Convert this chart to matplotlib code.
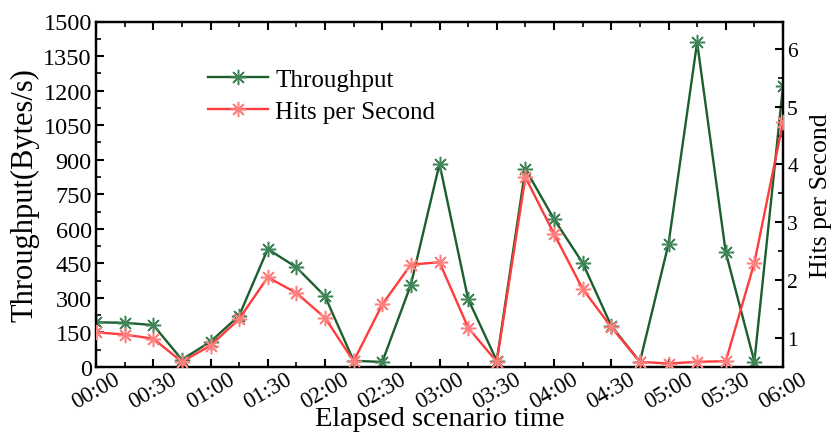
import matplotlib
matplotlib.use("Agg")
import matplotlib.pyplot as plt
import matplotlib.transforms as mtransforms
from matplotlib.ticker import MultipleLocator
import numpy as np

plt.rcParams['font.family'] = ['Liberation Serif', 'DejaVu Serif']

# time in minutes (every 15 min)
minutes = list(range(0, 361, 15))
tick_minutes = list(range(0, 361, 30))
tick_labels = ["00:00", "00:30", "01:00", "01:30", "02:00", "02:30", "03:00",
               "03:30", "04:00", "04:30", "05:00", "05:30", "06:00"]

throughput = [194, 192, 182, 32, 110, 223, 512, 433, 307, 27, 22, 357, 882,
              295, 27, 860, 642, 452, 179, 22, 534, 1410, 498, 23, 1219]
hits = [1.10, 1.06, 0.99, 0.59, 0.87, 1.33, 2.05, 1.78, 1.35, 0.60, 1.58, 2.27,
        2.31, 1.18, 0.59, 3.78, 2.80, 1.85, 1.19, 0.59, 0.56, 0.59, 0.60, 2.30, 4.73]

green_line = '#1d5e2e'
green_mk = '#3f8557'
red_line = '#ff3c3c'
red_mk = '#ff7f7f'

fig = plt.figure(figsize=(8.32, 4.35), dpi=100)
ax = fig.add_axes([96/832, 1 - 368/435, (783-96)/832, (368-22.5)/435])
ax2 = ax.twinx()

star = (8, 2, 0)
l1, = ax.plot(minutes, throughput, color=green_line, lw=1.7, marker=star,
              markersize=11, markeredgecolor=green_mk, markeredgewidth=1.1,
              label='Throughput', zorder=3)
l2, = ax2.plot(minutes, hits, color=red_line, lw=1.7, marker=star,
               markersize=11, markeredgecolor=red_mk, markeredgewidth=1.1,
               label='Hits per Second', zorder=3)

ax.set_xlim(0, 360)
ax.set_ylim(0, 1500)
ax2.set_ylim(0.5, 6.47)

ax.set_xticks(tick_minutes)
ax.set_xticklabels(tick_labels, rotation=30, fontsize=16.5)
ax.xaxis.set_minor_locator(MultipleLocator(15))
ax.yaxis.set_major_locator(MultipleLocator(150))
ax.yaxis.set_minor_locator(MultipleLocator(75))
ax2.yaxis.set_major_locator(MultipleLocator(1))
ax2.yaxis.set_minor_locator(MultipleLocator(0.5))

offset = mtransforms.ScaledTranslation(-10/100, 0, fig.dpi_scale_trans)
for lab in ax.get_xticklabels():
    lab.set_transform(lab.get_transform() + offset)

ax.tick_params(axis='both', which='major', direction='in', length=6, width=1.5,
               top=True, right=False)
ax.tick_params(axis='both', which='minor', direction='in', length=3.5, width=1.2,
               top=True, right=False)
ax.tick_params(axis='x', which='major', pad=1, labelsize=16.5)
ax.tick_params(axis='y', which='major', pad=3, labelsize=17.5)
ax2.tick_params(axis='y', which='major', direction='in', length=6, width=1.5,
                labelsize=15.5, pad=3)
ax2.tick_params(axis='y', which='minor', direction='in', length=3.5, width=1.2)

for a in (ax, ax2):
    for s in a.spines.values():
        s.set_linewidth(1.6)

ax.set_ylabel('Throughput(Bytes/s)', fontsize=22)
ax.yaxis.set_label_coords(-(96 - 24.5) / 687, 0.5)
ax.yaxis.label.set_va('center')
ax2.set_ylabel('Hits per Second', fontsize=18.5)
ax2.yaxis.set_label_coords(1 + (821 - 783) / 687, 0.5)
ax2.yaxis.label.set_va('center')
ax.set_xlabel('Elapsed scenario time', fontsize=20.5)
ax.xaxis.set_label_coords(0.5, -(420 - 368) / 345.5)
ax.xaxis.label.set_va('center')

leg = ax.legend(handles=[l1, l2], loc='upper left', bbox_to_anchor=(0.13, 0.93),
                frameon=False, fontsize=18, handlelength=2.4, handletextpad=0.3,
                labelspacing=0.4)

fig.savefig('out.png', dpi=100)
